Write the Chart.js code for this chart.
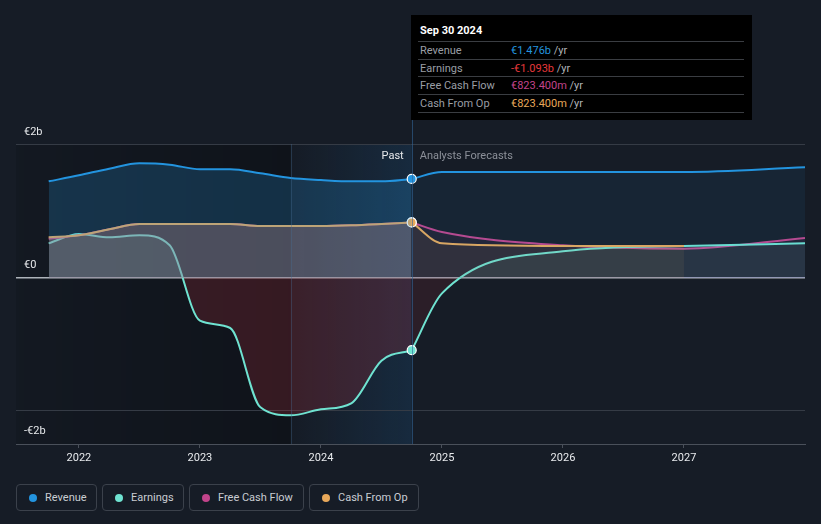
<!DOCTYPE html>
<html>
<head>
<meta charset="utf-8">
<script src="https://cdn.jsdelivr.net/npm/chart.js@4.4.1/dist/chart.umd.min.js"></script>
<style>
  body {
    margin: 0;
    background: #161c26;
    width: 821px;
    height: 524px;
    overflow: hidden;
    position: relative;
    font-family: Roboto, sans-serif;
  }
  #wrap { position: absolute; left: 0; top: 0; width: 821px; height: 470px; }
  .tip {
    position: absolute; left: 411px; top: 15px; width: 341px; height: 105px;
    background: #000; font-size: 11px;
  }
  .tip .title { position: absolute; left: 9px; top: 9px; color: #fff; font-weight: bold; line-height: 14px; }
  .tip .row {
    position: absolute; left: 7px; width: 326px; height: 17px;
    border-top: 1px solid #3a3d42; line-height: 17px;
  }
  .tip .row.last { border-bottom: 1px solid #3a3d42; }
  .tip .lab { position: absolute; left: 2px; color: #9a9ea5; }
  .tip .val { position: absolute; left: 93px; }
  .tip .yr { color: #b0b3b8; }
  .legend { position: absolute; left: 16px; top: 484px; display: flex; gap: 5px; }
  .item {
    box-sizing: border-box; height: 27px; border: 1px solid #3b414b; border-radius: 4px;
    display: flex; align-items: center; padding-left: 12px; font-size: 11px; color: #c9cdd3;
  }
  .dot { width: 8px; height: 8px; border-radius: 50%; margin-right: 8px; }
</style>
</head>
<body>
<div id="wrap"><canvas id="myChart" width="821" height="470"></canvas></div>

<div class="tip">
  <div class="title">Sep 30 2024</div>
  <div class="row" style="top:26px"><span class="lab">Revenue</span><span class="val"><span style="color:#2394df">€1.476b</span> <span class="yr">/yr</span></span></div>
  <div class="row" style="top:43.6px"><span class="lab">Earnings</span><span class="val"><span style="color:#e5383b">-€1.093b</span> <span class="yr">/yr</span></span></div>
  <div class="row" style="top:61.2px"><span class="lab">Free Cash Flow</span><span class="val"><span style="color:#c2448b">€823.400m</span> <span class="yr">/yr</span></span></div>
  <div class="row last" style="top:78.8px"><span class="lab">Cash From Op</span><span class="val"><span style="color:#e8a85a">€823.400m</span> <span class="yr">/yr</span></span></div>
</div>

<div class="legend">
  <div class="item" style="width:81px"><span class="dot" style="background:#2394df"></span>Revenue</div>
  <div class="item" style="width:82px"><span class="dot" style="background:#6fe3d1"></span>Earnings</div>
  <div class="item" style="width:115px"><span class="dot" style="background:#c2448b"></span>Free Cash Flow</div>
  <div class="item" style="width:110px"><span class="dot" style="background:#e8a85a"></span>Cash From Op</div>
</div>

<script>
// values in € billions, x in decimal years
const pastYears = [2021.75, 2022.0, 2022.25, 2022.5, 2022.75, 2023.0, 2023.25, 2023.5, 2023.75, 2024.0, 2024.25, 2024.5, 2024.75];
const revenuePast = [1.44, 1.53, 1.63, 1.71, 1.69, 1.62, 1.62, 1.56, 1.49, 1.46, 1.44, 1.44, 1.476];
const earningsPast = [0.51, 0.65, 0.60, 0.63, 0.48, -0.65, -0.76, -1.95, -2.07, -1.98, -1.89, -1.25, -1.093];
const fcfPast = [0.58, 0.63, 0.72, 0.80, 0.80, 0.80, 0.80, 0.77, 0.77, 0.77, 0.78, 0.80, 0.8234];
const cfoPast = [0.60, 0.63, 0.72, 0.80, 0.80, 0.80, 0.80, 0.77, 0.77, 0.77, 0.78, 0.80, 0.8234];

const forecastYears = [2024.75, 2025, 2026, 2027, 2028];
const revenueForecast = [1.476, 1.58, 1.58, 1.58, 1.65];
const earningsForecast = [-1.093, -0.24, 0.39, 0.47, 0.51];
const fcfForecast = [0.8234, 0.68, 0.48, 0.43, 0.59];
const cfoForecast = [0.8234, 0.51, 0.47, 0.47];

const tickYears = [2022, 2023, 2024, 2025, 2026, 2027];
const yTicks = [-2, 0, 2];
const yLabels = ["-€2b", "€0", "€2b"];

const pastStart = 2023.75;
const nowX = 2024.75;

const toPoints = (xs, ys) => ys.map((y, i) => ({ x: xs[i], y: y }));

const BLUE = "#2394df";
const TEAL = "#6fe3d1";
const PINK = "#c2448b";
const ORANGE = "#e8a85a";

Chart.defaults.font.family = "Roboto";

function lastDot(ctx) {
  return ctx.dataIndex === pastYears.length - 1 ? 4.5 : 0;
}

function line(data, color, fill, past) {
  return {
    data: data,
    borderColor: color,
    borderWidth: 2,
    backgroundColor: color,
    fill: fill,
    cubicInterpolationMode: "monotone",
    pointRadius: past ? lastDot : 0,
    pointBackgroundColor: color,
    pointBorderColor: "#ffffff",
    pointBorderWidth: 1.2,
    pointHoverRadius: 0,
  };
}

//backgrounds, past/forecast divider and labels
const decor = {
  id: "decor",
  beforeDraw(chart) {
    const { ctx, chartArea: a, scales } = chart;
    const x0 = scales.x.getPixelForValue(pastStart);
    const x1 = scales.x.getPixelForValue(nowX);
    ctx.save();
    let g = ctx.createLinearGradient(a.left, 0, x0, 0);
    g.addColorStop(0, "rgba(0,0,0,0.10)");
    g.addColorStop(1, "rgba(0,0,0,0.30)");
    ctx.fillStyle = g;
    ctx.fillRect(a.left, a.top, x0 - a.left, a.bottom - a.top);
    g = ctx.createLinearGradient(x0, 0, x1, 0);
    g.addColorStop(0, "rgba(33,150,243,0.0)");
    g.addColorStop(1, "rgba(33,150,243,0.12)");
    ctx.fillStyle = g;
    ctx.fillRect(x0, a.top, x1 - x0, a.bottom - a.top);
    ctx.restore();
  },
  afterDraw(chart) {
    const { ctx, chartArea: a, scales } = chart;
    const x0 = scales.x.getPixelForValue(pastStart);
    const x1 = scales.x.getPixelForValue(nowX);
    ctx.save();
    ctx.lineWidth = 1;
    ctx.strokeStyle = "rgba(70,110,150,0.35)";
    ctx.beginPath();
    ctx.moveTo(Math.round(x0) + 0.5, a.top);
    ctx.lineTo(Math.round(x0) + 0.5, a.bottom);
    ctx.stroke();
    ctx.strokeStyle = "rgba(50,100,150,0.6)";
    ctx.beginPath();
    ctx.moveTo(Math.round(x1) + 0.5, 120);
    ctx.lineTo(Math.round(x1) + 0.5, a.bottom);
    ctx.stroke();

    ctx.font = "11px Roboto";
    ctx.textBaseline = "middle";
    ctx.fillStyle = "#e6e8eb";
    ctx.textAlign = "right";
    ctx.fillText("Past", x1 - 8, a.top + 12);
    ctx.fillStyle = "#8c9099";
    ctx.textAlign = "left";
    ctx.fillText("Analysts Forecasts", x1 + 8, a.top + 12);

    ctx.fillStyle = "#e6e8eb";
    yTicks.forEach((v, i) => {
      const y = scales.y.getPixelForValue(v);
      const off = v < 0 ? 21 : -12;
      ctx.fillText(yLabels[i], 24, y + off);
    });
    ctx.restore();
  },
};

const config = {
  type: "line",
  data: {
    datasets: [
      line(toPoints(pastYears, revenuePast), BLUE, { target: "origin", above: "rgba(35,148,223,0.22)" }, true),
      line(toPoints(pastYears, cfoPast), ORANGE, { target: "origin", above: "rgba(232,168,90,0.22)" }, true),
      line(toPoints(pastYears, fcfPast), PINK, { target: "origin", above: "rgba(194,68,139,0.18)" }, true),
      line(toPoints(pastYears, earningsPast), TEAL, { target: "origin", above: "rgba(111,227,209,0.12)", below: "rgba(175,45,60,0.24)" }, true),
      line(toPoints(forecastYears, revenueForecast), BLUE, { target: "origin", above: "rgba(35,148,223,0.08)" }, false),
      line(toPoints(forecastYears.slice(0, 4), cfoForecast), ORANGE, { target: "origin", above: "rgba(232,168,90,0.08)" }, false),
      line(toPoints(forecastYears, earningsForecast), TEAL, { target: "origin", above: "rgba(111,227,209,0.08)", below: "rgba(175,45,60,0.14)" }, false),
      line(toPoints(forecastYears, fcfForecast), PINK, { target: "origin", above: "rgba(194,68,139,0.08)" }, false),
    ],
  },
  options: {
    responsive: false,
    animation: false,
    events: [],
    layout: { padding: { left: 16, right: 16, top: 144, bottom: 0 } },
    scales: {
      x: {
        type: "linear",
        min: 2021.48,
        max: 2028.0,
        afterBuildTicks: (axis) => {
          axis.ticks = tickYears.map((v) => ({ value: v }));
        },
        afterFit: (axis) => {
          axis.height = 26;
        },
        grid: { drawOnChartArea: false, drawTicks: true, tickLength: 4, color: "#4a505a" },
        border: { display: true, color: "#4a505a" },
        ticks: {
          color: "#e8eaed",
          font: { size: 11 },
          padding: 4,
          maxRotation: 0,
          callback: (v) => String(v),
        },
      },
      y: {
        min: -2.5,
        max: 2,
        afterBuildTicks: (axis) => {
          axis.ticks = yTicks.map((v) => ({ value: v }));
        },
        afterFit: (axis) => {
          axis.width = 0;
        },
        border: { display: false },
        grid: {
          drawTicks: false,
          color: (c) => (c.tick && c.tick.value === 0 ? "#aeb3ba" : "#353b45"),
          lineWidth: (c) => (c.tick && c.tick.value === 0 ? 1.5 : 1),
        },
        ticks: { display: false },
      },
    },
    plugins: {
      legend: { display: false },
      tooltip: { enabled: false },
    },
  },
  plugins: [decor],
};

const myChart = new Chart(document.getElementById("myChart"), config);
</script>
</body>
</html>
